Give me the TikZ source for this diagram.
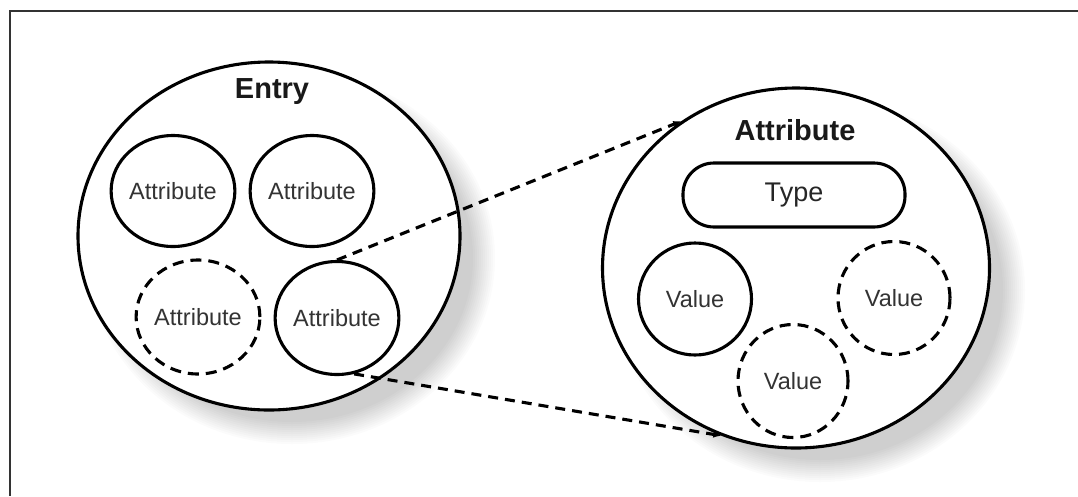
\documentclass[tikz,border=0pt]{standalone}
\usepackage{fontspec}
\setmainfont{Liberation Sans}
\usetikzlibrary{shapes.geometric,arrows.meta}
\tikzset{
  ln/.style={line width=3.1pt, draw=black},
  bigc/.style={ellipse, ln, fill=white, inner sep=0pt},
  smallc/.style={ellipse, ln, inner sep=0pt, minimum width=111pt, minimum height=111pt,
     text=black!80, font=\fontsize{23.5}{26}\selectfont},
  dashc/.style={smallc, dash pattern=on 11pt off 7pt},
  ttl/.style={font=\bfseries\fontsize{29}{32}\selectfont, text=black!90, inner sep=0pt},
  conn/.style={line width=3.1pt, dash pattern=on 10pt off 7pt, -{Latex[length=8pt,width=7pt]}},
  framel/.style={line width=2.5pt, draw=black!80}
}
\begin{document}
\begin{tikzpicture}[x=1pt,y=-1pt]
\useasboundingbox (0,0) rectangle (1078,496);
\fill[white] (0,0) rectangle (1078,496);
% frame
\coordinate (fa) at (1078,11);
\coordinate (fb) at (10,11);
\coordinate (fc) at (10,496);
\draw[framel] (fa) -- (fb) -- (fc);
% shadows
\foreach \k in {0,...,11}{
  \fill[black,opacity=0.017] (292,258) ellipse [x radius={203pt-2pt*\k}, y radius={186pt-2pt*\k}];
  \fill[black,opacity=0.017] (820,290) ellipse [x radius={205pt-2pt*\k}, y radius={192pt-2pt*\k}];
}
% Entry
\node[bigc, minimum width=382pt, minimum height=348pt] (entry) at (269,236) {};
\node[ttl] (entrylbl) at (272,92) {Entry};
\node[smallc] (a1) at (173,191) {Attribute};
\node[smallc] (a2) at (312,191) {Attribute};
\node[dashc, minimum height=114pt] (a3) at (198,317) {Attribute};
\node[smallc, minimum height=113pt] (a4) at (337,318) {Attribute};
% Attribute
\node[bigc, minimum width=387pt, minimum height=360pt] (attr) at (796,268) {};
\node[ttl] (attrlbl) at (795,130) {Attribute};
\node[ln, rounded corners=31pt, minimum width=222pt, minimum height=64pt, inner sep=0pt,
      font=\fontsize{27}{30}\selectfont, text=black!85] (type) at (794,195) {Type};
\node[smallc, minimum width=113pt, minimum height=112pt] (v1) at (695,299) {Value};
\node[dashc, minimum width=112pt, minimum height=113pt] (v2) at (894,298) {Value};
\node[dashc, minimum width=110pt, minimum height=113pt] (v3) at (793,381) {Value};
% connectors
\draw[conn] (a4.north) -- (attr.128);
\draw[conn] (a4.287) -- (attr.246);
\end{tikzpicture}
\end{document}
